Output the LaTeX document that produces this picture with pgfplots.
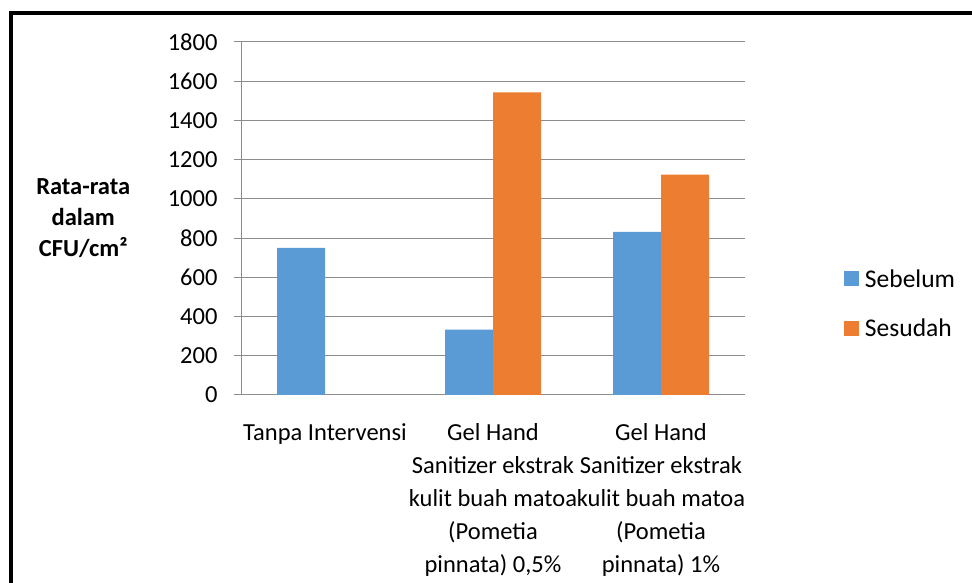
\documentclass[border=0pt]{standalone}
\usepackage{pgfplots}
\pgfplotsset{compat=1.18}
\usepackage{fontspec}
\setmainfont{Carlito}
\definecolor{cblue}{HTML}{5B9BD5}
\definecolor{corange}{HTML}{ED7D31}
\definecolor{cgrid}{HTML}{8C8C8C}
\begin{document}
\begin{tikzpicture}[x=1bp,y=1bp]
\path[use as bounding box] (0,0) rectangle (972,583);
\begin{axis}[
  at={(241bp,188bp)}, anchor=south west,
  scale only axis, width=504bp, height=353bp,
  ybar=0pt, bar width=48bp,
  xmin=-0.5, xmax=2.5, ymin=0, ymax=1800,
  ytick={0,200,...,1800},
  xtick={0,1,2},
  xticklabels={Tanpa Intervensi,
    {Gel Hand\\Sanitizer ekstrak\\kulit buah matoa\\(Pometia\\pinnata) 0,5\%},
    {Gel Hand\\Sanitizer ekstrak\\kulit buah matoa\\(Pometia\\pinnata) 1\%}},
  major x tick style={draw=none},
  extra x ticks={-0.5,0.5,1.5,2.5},
  extra x tick labels={},
  extra x tick style={major tick length=8bp, grid=none, tick style={draw=cgrid, line width=1bp}},
  tick align=outside,
  major tick length=7bp,
  ytick style={draw=cgrid, line width=1bp},
  axis x line*=bottom, axis y line*=left,
  axis line style={draw=cgrid, line width=1bp, -},
  ymajorgrids, grid style={draw=cgrid, line width=1bp},
  /pgf/number format/assume math mode=true,
  /pgf/number format/1000 sep={},
  tick label style={font=\fontsize{24.5bp}{33bp}\selectfont, text=black},
  xticklabel style={align=center, yshift=-18bp},
  yticklabel style={xshift=-13bp},
  ylabel={Rata-rata\\dalam\\CFU/cm²},
  ylabel style={rotate=-90, at={(axis description cs:-0.313,0.5)}, anchor=center, align=center, font=\bfseries\fontsize{24.5bp}{31bp}\selectfont},
  legend style={draw=none, fill=none, at={(1.196,0.362)}, anchor=north west, inner sep=0pt, row sep=26bp, font=\fontsize{25.5bp}{28bp}\selectfont, cells={anchor=west}},
  legend image code/.code={\fill[#1] (0bp,-7.5bp) rectangle (15bp,7.5bp); \path (19bp,0bp);},
]
\addplot[fill=cblue, draw=none] coordinates {(0,750) (1,333) (2,832)};
\addplot[fill=corange, draw=none] coordinates {(1,1543) (2,1124)};
\legend{Sebelum, Sesudah}
\end{axis}
\draw[line width=4bp] (10.5,0) -- (10.5,569.5) -- (972,569.5);
\end{tikzpicture}
\end{document}
